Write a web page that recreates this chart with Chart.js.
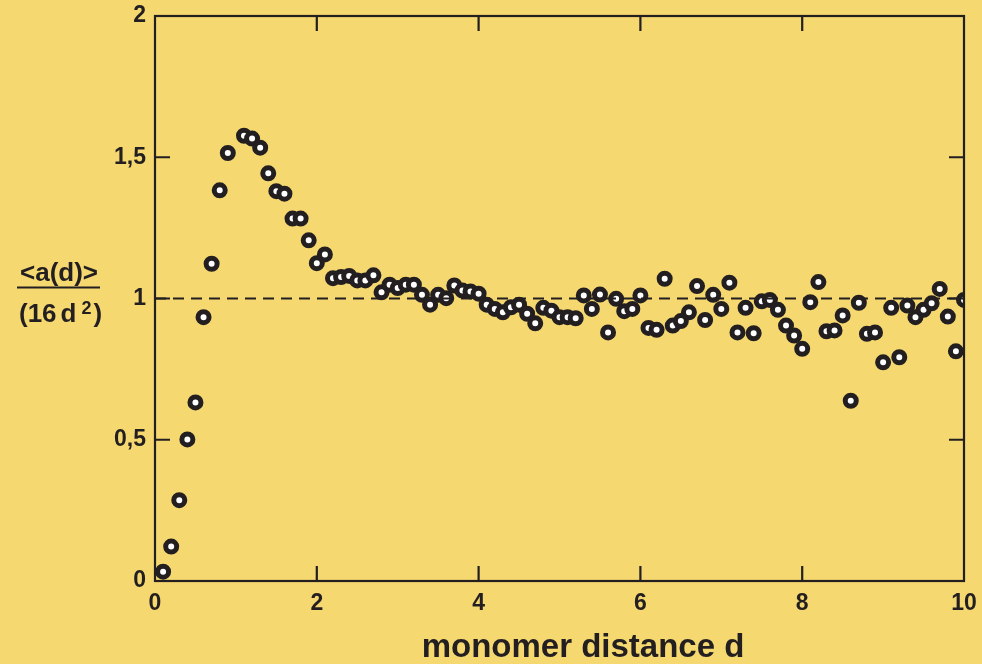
<!DOCTYPE html>
<html>
<head>
<meta charset="utf-8">
<script src="https://cdn.jsdelivr.net/npm/chart.js@4/dist/chart.umd.min.js"></script>
<style>
  html, body { margin: 0; padding: 0; background: #f5d870; }
  #wrap { width: 982px; height: 664px; }
</style>
</head>
<body>
<div id="wrap"><canvas id="c" width="982" height="664"></canvas></div>
<script>
// monomer distance d
const distance = [
  0.1, 0.2, 0.3, 0.4, 0.5, 0.6, 0.7, 0.8, 0.9,
  1.1, 1.2, 1.3, 1.4, 1.5, 1.6, 1.7, 1.8, 1.9, 2.0,
  2.1, 2.2, 2.3, 2.4, 2.5, 2.6, 2.7, 2.8, 2.9, 3.0,
  3.1, 3.2, 3.3, 3.4, 3.5, 3.6, 3.7, 3.8, 3.9, 4.0,
  4.1, 4.2, 4.3, 4.4, 4.5, 4.6, 4.7, 4.8, 4.9, 5.0,
  5.1, 5.2, 5.3, 5.4, 5.5, 5.6, 5.7, 5.8, 5.9, 6.0,
  6.1, 6.2, 6.3, 6.4, 6.5, 6.6, 6.7, 6.8, 6.9, 7.0,
  7.1, 7.2, 7.3, 7.4, 7.5, 7.6, 7.7, 7.8, 7.9, 8.0,
  8.1, 8.2, 8.3, 8.4, 8.5, 8.6, 8.7, 8.8, 8.9, 9.0,
  9.1, 9.2, 9.3, 9.4, 9.5, 9.6, 9.7, 9.8, 9.9, 10.0
];
// <a(d)> / (16 d^2)
const ratio = [
  0.033, 0.122, 0.286, 0.501, 0.632, 0.934, 1.123, 1.383, 1.515,
  1.576, 1.566, 1.534, 1.443, 1.380, 1.371, 1.283, 1.283, 1.206, 1.125,
  1.156, 1.072, 1.076, 1.080, 1.064, 1.064, 1.082, 1.022, 1.049, 1.037,
  1.049, 1.049, 1.013, 0.978, 1.013, 1.001, 1.046, 1.028, 1.025, 1.017,
  0.978, 0.963, 0.951, 0.969, 0.978, 0.946, 0.912, 0.967, 0.957, 0.934,
  0.934, 0.930, 1.011, 0.963, 1.014, 0.880, 0.999, 0.955, 0.963, 1.011,
  0.896, 0.889, 1.070, 0.904, 0.920, 0.951, 1.044, 0.924, 1.013, 0.963,
  1.056, 0.880, 0.967, 0.877, 0.990, 0.995, 0.960, 0.904, 0.869, 0.822,
  0.987, 1.058, 0.884, 0.887, 0.940, 0.638, 0.985, 0.875, 0.880, 0.774,
  0.967, 0.792, 0.975, 0.934, 0.960, 0.983, 1.034, 0.936, 0.813, 0.995
];
// reference level
const referenceX = [0, 10];
const referenceY = [1, 1];

const xTicks = [0, 2, 4, 6, 8, 10];
const xTickText = ['0', '2', '4', '6', '8', '10'];
const yTicks = [0, 0.5, 1, 1.5, 2];
const yTickText = ['0', '0,5', '1', '1,5', '2'];
const xTitle = 'monomer distance d';

const INK = '#231f20';
const PAPER = '#f5d870';
const FONT = "'Liberation Sans', Arial, sans-serif";

const points = distance.map((d, i) => ({ x: d, y: ratio[i] }));
const refLine = referenceX.map((x, i) => ({ x: x, y: referenceY[i] }));

// paper background
const paperPlugin = {
  id: 'paper',
  beforeDraw(chart) {
    const ctx = chart.ctx;
    ctx.save();
    ctx.fillStyle = PAPER;
    ctx.fillRect(0, 0, chart.width, chart.height);
    ctx.restore();
  }
};

// boxed frame with inward tick marks on all four sides
const framePlugin = {
  id: 'frame',
  afterDatasetsDraw(chart) {
    const { ctx, chartArea: a, scales } = chart;
    const len = 15;
    ctx.save();
    ctx.strokeStyle = INK;
    ctx.lineWidth = 2.2;
    ctx.lineCap = 'butt';
    ctx.strokeRect(a.left, a.top, a.right - a.left, a.bottom - a.top);
    ctx.beginPath();
    xTicks.slice(1, -1).forEach(v => {
      const px = scales.x.getPixelForValue(v);
      ctx.moveTo(px, a.bottom); ctx.lineTo(px, a.bottom - len);
      ctx.moveTo(px, a.top); ctx.lineTo(px, a.top + len);
    });
    yTicks.slice(1, -1).forEach(v => {
      const py = scales.y.getPixelForValue(v);
      ctx.moveTo(a.left, py); ctx.lineTo(a.left + len, py);
      ctx.moveTo(a.right, py); ctx.lineTo(a.right - len, py);
    });
    ctx.stroke();
    ctx.restore();
  }
};

// axis titles: x title below the axis, y title written as a fraction <a(d)> over (16 d²)
const titlesPlugin = {
  id: 'titles',
  afterDraw(chart) {
    const ctx = chart.ctx;
    ctx.save();
    ctx.fillStyle = INK;
    ctx.strokeStyle = INK;
    ctx.textBaseline = 'alphabetic';

    ctx.font = "bold 33px " + FONT;
    ctx.textAlign = 'center';
    ctx.fillText(xTitle, 583, 657);

    ctx.font = "bold 26px " + FONT;
    ctx.fillText('<a(d)>', 59, 281);
    ctx.lineWidth = 2;
    ctx.beginPath();
    ctx.moveTo(17, 287.5);
    ctx.lineTo(100, 287.5);
    ctx.stroke();
    ctx.textAlign = 'left';
    let x = 19;
    const base = 322;
    ctx.fillText('(16', x, base);
    x += ctx.measureText('(16').width + 4;
    ctx.fillText('d', x, base);
    x += ctx.measureText('d').width + 5;
    ctx.font = "bold 18px " + FONT;
    ctx.fillText('2', x, base - 8);
    x += ctx.measureText('2').width + 2;
    ctx.font = "bold 26px " + FONT;
    ctx.fillText(')', x, base);
    ctx.restore();
  }
};

new Chart(document.getElementById('c'), {
  type: 'scatter',
  data: {
    datasets: [
      {
        type: 'line',
        data: refLine,
        borderColor: INK,
        borderWidth: 2.2,
        borderDash: [11, 7],
        pointRadius: 0,
        fill: false,
        order: 0
      },
      {
        data: points,
        pointRadius: 5.5,
        pointBorderWidth: 5,
        pointBackgroundColor: '#ffffff',
        pointBorderColor: INK,
        showLine: false,
        order: 1
      }
    ]
  },
  options: {
    responsive: false,
    animation: false,
    events: [],
    layout: { padding: { left: 0, right: 18, top: 16, bottom: 0 } },
    plugins: { legend: { display: false }, tooltip: { enabled: false } },
    scales: {
      x: {
        type: 'linear',
        min: 0, max: 10,
        afterBuildTicks(s) { s.ticks = xTicks.map(v => ({ value: v })); },
        afterFit(s) { s.height = 83; s.paddingLeft = 0; s.paddingRight = 0; },
        grid: { display: false, drawTicks: false },
        border: { display: false },
        ticks: {
          padding: 9,
          color: INK,
          font: { family: FONT, size: 23, weight: 'bold' },
          maxRotation: 0,
          callback(v) { const i = xTicks.indexOf(v); return i >= 0 ? xTickText[i] : ''; }
        }
      },
      y: {
        type: 'linear',
        min: 0, max: 2,
        afterBuildTicks(s) { s.ticks = yTicks.map(v => ({ value: v })); },
        afterFit(s) { s.width = 155; s.paddingTop = 0; s.paddingBottom = 0; },
        grid: { display: false, drawTicks: false },
        border: { display: false },
        ticks: {
          padding: 9,
          color: INK,
          font: { family: FONT, size: 23, weight: 'bold' },
          callback(v) { const i = yTicks.indexOf(v); return i >= 0 ? yTickText[i] : ''; }
        }
      }
    }
  },
  plugins: [paperPlugin, framePlugin, titlesPlugin]
});
</script>
</body>
</html>
